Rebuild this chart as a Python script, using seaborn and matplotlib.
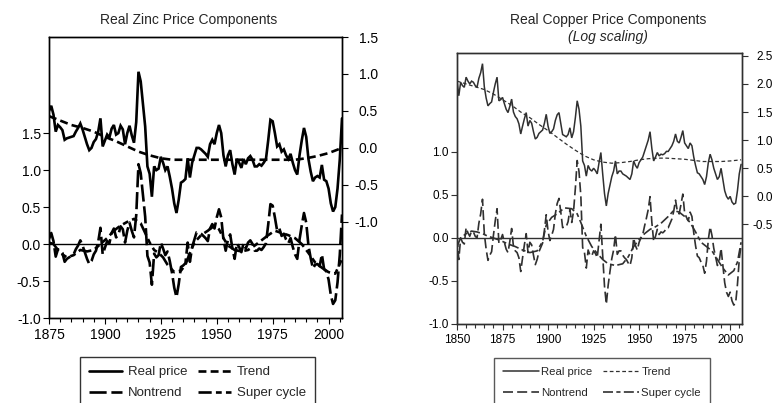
import matplotlib
matplotlib.use("Agg")
import matplotlib.pyplot as plt
import seaborn as sns
import numpy as np
from matplotlib.ticker import MultipleLocator, FormatStrFormatter
from matplotlib.lines import Line2D

sns.set_style("ticks")
plt.rcParams["font.family"] = ["Liberation Sans", "DejaVu Sans"]
plt.rcParams["axes.unicode_minus"] = False

# ---------------- Zinc data ----------------
zinc_years = list(range(1875, 2007))
zinc_price = [
    0.50, 0.57, 0.45, 0.22, 0.31, 0.28, 0.24, 0.11, 0.13, 0.14,
    0.15, 0.16, 0.22, 0.27, 0.33, 0.25, 0.15, 0.05, -0.03, 0.00,
    0.08, 0.12, 0.22, 0.40, 0.02, 0.10, 0.18, 0.14, 0.26, 0.31,
    0.18, 0.20, 0.30, 0.25, 0.05, 0.20, 0.30, 0.17, 0.07, 0.35,
    1.03, 0.90, 0.60, 0.29, -0.25, -0.35, -0.66, -0.25, -0.30, -0.28,
    -0.12, -0.20, -0.30, -0.25, -0.39, -0.55, -0.75, -0.88, -0.70, -0.47,
    -0.45, -0.42, -0.14, -0.40, -0.20, -0.10, 0.00, 0.00, -0.02, -0.05,
    -0.08, -0.12, 0.05, 0.11, 0.05, 0.20, 0.31, 0.20, -0.10, -0.25,
    -0.10, -0.03, -0.22, -0.36, -0.15, -0.20, -0.27, -0.15, -0.22, -0.14,
    -0.11, -0.16, -0.25, -0.25, -0.22, -0.24, -0.20, -0.15, 0.10, 0.38,
    0.36, 0.20, 0.02, 0.05, -0.05, -0.02, -0.10, -0.15, -0.08, -0.20,
    -0.30, -0.36, -0.10, 0.10, 0.27, 0.15, -0.15, -0.32, -0.45, -0.40,
    -0.38, -0.40, -0.23, -0.43, -0.45, -0.55, -0.75, -0.86, -0.80, -0.55,
    -0.16, 0.40,
]
zinc_nontrend = [
    0.07, 0.15, 0.04, -0.17, -0.07, -0.09, -0.12, -0.24, -0.20, -0.18,
    -0.16, -0.14, -0.07, -0.02, 0.05, -0.02, -0.11, -0.20, -0.27, -0.23,
    -0.14, -0.09, 0.03, 0.22, -0.14, -0.05, 0.04, 0.01, 0.15, 0.21,
    0.09, 0.12, 0.24, 0.20, 0.02, 0.18, 0.29, 0.18, 0.09, 0.39,
    1.08, 0.96, 0.67, 0.37, -0.16, -0.25, -0.55, -0.13, -0.18, -0.15,
    0.02, -0.06, -0.15, -0.10, -0.23, -0.39, -0.59, -0.72, -0.54, -0.31,
    -0.29, -0.26, 0.02, -0.24, -0.04, 0.06, 0.16, 0.16, 0.14, 0.11,
    0.08, 0.04, 0.21, 0.27, 0.21, 0.36, 0.47, 0.36, 0.06, -0.09,
    0.06, 0.13, -0.06, -0.20, 0.01, -0.04, -0.11, 0.01, -0.06, 0.02,
    0.05, 0.00, -0.09, -0.09, -0.06, -0.08, -0.04, 0.01, 0.26, 0.54,
    0.52, 0.36, 0.18, 0.21, 0.11, 0.14, 0.06, 0.01, 0.08, -0.04,
    -0.14, -0.20, 0.06, 0.25, 0.42, 0.29, -0.02, -0.19, -0.33, -0.28,
    -0.27, -0.30, -0.14, -0.34, -0.37, -0.48, -0.69, -0.81, -0.76, -0.52,
    -0.15, 0.40,
]
zinc_trend_years = [1875, 1880, 1885, 1890, 1895, 1900, 1905, 1910, 1915, 1920,
                    1925, 1930, 1940, 1950, 1960, 1970, 1980, 1985, 1990, 1995,
                    2000, 2006]
zinc_trend = [0.43, 0.37, 0.31, 0.27, 0.22, 0.15, 0.09, 0.02, -0.05, -0.10,
              -0.14, -0.16, -0.16, -0.16, -0.16, -0.16, -0.16, -0.16, -0.14, -0.11,
              -0.07, 0.00]
zinc_super_years = [1875, 1877, 1880, 1883, 1886, 1889, 1892, 1895, 1898, 1901,
                    1904, 1907, 1910, 1913, 1916, 1918, 1920, 1922, 1924, 1926,
                    1928, 1931, 1934, 1936, 1938, 1940, 1943, 1946, 1949, 1951,
                    1953, 1955, 1958, 1961, 1964, 1967, 1970, 1973, 1976, 1979,
                    1982, 1985, 1988, 1991, 1994, 1997, 2000, 2003, 2006]
zinc_super = [0.02, 0.00, -0.12, -0.18, -0.15, -0.08, -0.10, -0.08, 0.00, 0.08,
              0.18, 0.25, 0.30, 0.34, 0.28, 0.15, 0.02, -0.08, -0.12, -0.18,
              -0.28, -0.38, -0.36, -0.28, -0.12, 0.02, 0.12, 0.18, 0.25, 0.20,
              0.08, -0.02, -0.08, -0.10, -0.08, -0.02, 0.05, 0.12, 0.18, 0.15,
              0.12, 0.08, 0.00, -0.12, -0.25, -0.32, -0.38, -0.40, -0.20]

# ---------------- Copper data ----------------
copper_years = list(range(1850, 2007))
copper_price = [
    2.06, 1.79, 2.03, 1.97, 1.94, 2.12, 2.05, 2.00, 2.05, 2.03,
    1.97, 1.94, 2.10, 2.20, 2.36, 1.95, 1.75, 1.61, 1.65, 1.68,
    1.85, 2.00, 2.12, 1.70, 1.72, 1.76, 1.65, 1.55, 1.49, 1.60,
    1.73, 1.50, 1.42, 1.38, 1.29, 1.11, 1.25, 1.38, 1.49, 1.25,
    1.35, 1.30, 1.15, 1.02, 1.05, 1.12, 1.15, 1.18, 1.30, 1.46,
    1.25, 1.12, 1.15, 1.20, 1.35, 1.45, 1.49, 1.30, 1.10, 1.08,
    1.06, 1.10, 1.22, 1.04, 1.15, 1.40, 1.70, 1.55, 1.25, 0.63,
    0.55, 0.36, 0.55, 0.48, 0.45, 0.50, 0.46, 0.40, 0.60, 0.78,
    0.40, 0.05, -0.17, 0.05, 0.20, 0.35, 0.45, 0.63, 0.40, 0.45,
    0.45, 0.40, 0.38, 0.36, 0.33, 0.30, 0.40, 0.63, 0.55, 0.50,
    0.60, 0.65, 0.70, 0.80, 0.90, 1.00, 1.15, 0.85, 0.63, 0.70,
    0.78, 0.72, 0.75, 0.74, 0.76, 0.80, 0.80, 0.85, 0.90, 0.98,
    1.11, 0.98, 0.95, 1.05, 1.17, 0.95, 0.90, 0.85, 0.95, 0.90,
    0.70, 0.55, 0.42, 0.40, 0.35, 0.30, 0.21, 0.35, 0.60, 0.75,
    0.65, 0.50, 0.40, 0.30, 0.35, 0.50, 0.30, 0.10, 0.00, -0.05,
    0.00, -0.10, -0.14, -0.12, 0.10, 0.40, 0.57,
]
copper_nontrend = [
    0.01, -0.25, 0.00, -0.05, -0.07, 0.12, 0.06, 0.02, 0.08, 0.07,
    0.02, 0.00, 0.17, 0.28, 0.45, 0.05, -0.13, -0.26, -0.20, -0.16,
    0.03, 0.20, 0.34, -0.06, -0.02, 0.04, -0.05, -0.13, -0.17, -0.04,
    0.11, -0.10, -0.15, -0.17, -0.23, -0.39, -0.23, -0.08, 0.05, -0.17,
    -0.05, -0.08, -0.20, -0.31, -0.25, -0.16, -0.11, -0.06, 0.09, 0.27,
    0.08, -0.03, 0.03, 0.10, 0.28, 0.40, 0.46, 0.30, 0.12, 0.13,
    0.13, 0.19, 0.33, 0.18, 0.31, 0.58, 0.90, 0.77, 0.49, -0.11,
    -0.17, -0.35, -0.14, -0.20, -0.21, -0.15, -0.18, -0.23, -0.03, 0.16,
    -0.21, -0.56, -0.77, -0.55, -0.39, -0.24, -0.14, 0.04, -0.19, -0.15,
    -0.15, -0.20, -0.23, -0.25, -0.29, -0.32, -0.23, 0.00, -0.09, -0.14,
    -0.05, 0.00, 0.04, 0.14, 0.23, 0.33, 0.48, 0.18, -0.04, 0.02,
    0.10, 0.04, 0.07, 0.06, 0.08, 0.12, 0.12, 0.17, 0.22, 0.31,
    0.44, 0.31, 0.28, 0.39, 0.51, 0.29, 0.24, 0.20, 0.30, 0.25,
    0.06, -0.09, -0.21, -0.23, -0.28, -0.32, -0.41, -0.27, -0.02, 0.13,
    0.03, -0.12, -0.22, -0.32, -0.27, -0.12, -0.32, -0.52, -0.63, -0.68,
    -0.63, -0.73, -0.78, -0.76, -0.54, -0.25, -0.08,
]
copper_trend_years = [1850, 1855, 1860, 1865, 1870, 1875, 1880, 1885, 1890, 1895,
                      1900, 1905, 1910, 1915, 1920, 1925, 1930, 1935, 1940, 1945,
                      1950, 1955, 1960, 1965, 1970, 1975, 1980, 1985, 1990, 1995,
                      2000, 2006]
copper_trend = [2.05, 2.00, 1.95, 1.90, 1.82, 1.72, 1.62, 1.50, 1.40, 1.28,
                1.17, 1.05, 0.93, 0.82, 0.72, 0.65, 0.61, 0.59, 0.60, 0.62,
                0.65, 0.67, 0.68, 0.68, 0.67, 0.66, 0.64, 0.62, 0.62, 0.62,
                0.63, 0.65]
copper_super_years = [1850, 1852, 1855, 1858, 1861, 1864, 1867, 1870, 1874, 1878,
                      1882, 1886, 1890, 1894, 1897, 1899, 1902, 1905, 1909, 1913,
                      1916, 1918, 1921, 1924, 1927, 1930, 1933, 1937, 1941, 1944,
                      1947, 1950, 1953, 1956, 1959, 1962, 1966, 1969, 1972, 1975,
                      1978, 1981, 1984, 1987, 1990, 1993, 1996, 1999, 2002, 2004,
                      2006]
copper_super = [-0.10, 0.00, 0.05, 0.08, 0.07, 0.05, 0.02, 0.00, -0.03, -0.07,
                -0.10, -0.14, -0.17, -0.15, -0.04, 0.15, 0.24, 0.28, 0.35, 0.34,
                0.28, 0.18, 0.02, -0.10, -0.18, -0.25, -0.30, -0.32, -0.30, -0.22,
                -0.10, -0.02, 0.05, 0.10, 0.13, 0.17, 0.25, 0.32, 0.30, 0.25,
                0.18, 0.07, -0.05, -0.10, -0.15, -0.25, -0.35, -0.43, -0.38, -0.28,
                -0.05]

legend_labels = ["Real price", "Trend", "Nontrend", "Super cycle"]

# ---------------- Figure ----------------
fig = plt.figure(figsize=(7.74, 4.03), dpi=100)
W, H = 774.0, 403.0


def box(l, t, r, b):
    return [l / W, 1 - b / H, (r - l) / W, (b - t) / H]


def draw(ax, x, y, color, lw, dashes=None):
    sns.lineplot(x=x, y=y, ax=ax, color=color, linewidth=lw,
                 estimator=None, errorbar=None, legend=False)
    ln = ax.lines[-1]
    if dashes is not None:
        ln.set_dashes(dashes)
    ln.set_dash_capstyle("butt")
    ln.set_solid_joinstyle("miter")
    return ln


def style_axes(ax, ax2, color, fs, rpad):
    for a in (ax, ax2):
        for s in a.spines.values():
            s.set_visible(True)
            s.set_color(color)
            s.set_linewidth(1.0)
        a.set_xlabel("")
        a.set_ylabel("")
    ax.xaxis.set_major_locator(MultipleLocator(25))
    ax.xaxis.set_minor_locator(MultipleLocator(5))
    ax.tick_params(axis="x", which="major", length=4, width=0.8, color=color,
                   labelsize=fs, pad=3, labelcolor="black")
    ax.tick_params(axis="x", which="minor", length=3, width=0.8, color=color)
    ax.tick_params(axis="y", length=4, width=0.8, color=color, labelsize=fs,
                   pad=2, labelcolor="black")
    ax2.tick_params(axis="y", length=4, width=0.8, color=color, labelsize=fs,
                    pad=rpad, labelcolor="black")
    for lbl in ax2.get_yticklabels():
        lbl.set_ha("right")
    ax.yaxis.set_major_formatter(FormatStrFormatter("%.1f"))
    ax2.yaxis.set_major_formatter(FormatStrFormatter("%.1f"))


# ---- Zinc panel ----
axz = fig.add_axes(box(49, 37, 342, 318))
axz2 = axz.twinx()
zk = "black"
z_lw = 1.9
z_trend_d = (3.0, 1.6)
z_non_d = (6.5, 1.8)
z_sup_d = (5.0, 1.6, 2.2, 1.6, 2.2, 1.6)

axz.axhline(0, color=zk, lw=1.0)
draw(axz, zinc_years, zinc_nontrend, zk, z_lw, z_non_d)
draw(axz, zinc_super_years, zinc_super, zk, z_lw, z_sup_d)
draw(axz2, zinc_years, zinc_price, zk, z_lw)
draw(axz2, zinc_trend_years, zinc_trend, zk, z_lw, z_trend_d)

axz.set_xlim(1875, 2006)
axz.set_ylim(-1.0, 2.8)
axz.set_yticks([-1.0, -0.5, 0.0, 0.5, 1.0, 1.5])
axz2.set_ylim(-2.3, 1.5)
axz2.set_yticks([-1.0, -0.5, 0.0, 0.5, 1.0, 1.5])
style_axes(axz, axz2, zk, 10, 22)

fig.text(189 / W, 1 - 20 / H, "Real Zinc Price Components", ha="center",
         va="center", fontsize=10)

zh = [Line2D([], [], color=zk, lw=z_lw),
      Line2D([], [], color=zk, lw=z_lw, dashes=z_non_d),
      Line2D([], [], color=zk, lw=z_lw, dashes=z_trend_d),
      Line2D([], [], color=zk, lw=z_lw, dashes=z_sup_d)]
legz = fig.legend(zh, [legend_labels[0], legend_labels[2], legend_labels[1], legend_labels[3]],
                  loc="upper left", bbox_to_anchor=(80 / W, 1 - 357 / H), ncol=2,
                  frameon=True, fancybox=False, edgecolor="black", fontsize=9.5,
                  handlelength=2.5, handletextpad=0.45, columnspacing=0.8,
                  labelspacing=0.68, borderpad=0.68, borderaxespad=0)
legz.get_frame().set_linewidth(1.0)

# ---- Copper panel ----
axc = fig.add_axes(box(457, 53, 742, 324))
axc2 = axc.twinx()
ck = "#303030"
c_lw = 1.1
c_trend_d = (3.0, 2.0)
c_non_d = (6.0, 2.5)
c_sup_d = (6.0, 2.0, 2.5, 2.0)

axc.axhline(0, color=ck, lw=1.0)
draw(axc, copper_years, copper_nontrend, ck, 1.2, c_non_d)
draw(axc, copper_super_years, copper_super, ck, 1.2, c_sup_d)
draw(axc2, copper_years, copper_price, ck, c_lw)
draw(axc2, copper_trend_years, copper_trend, ck, 0.9, c_trend_d)

axc.set_xlim(1850, 2006.5)
axc.set_ylim(-1.0, 2.15)
axc.set_yticks([-1.0, -0.5, 0.0, 0.5, 1.0])
axc2.set_ylim(-2.27, 2.55)
axc2.set_yticks([-0.5, 0.0, 0.5, 1.0, 1.5, 2.0, 2.5])
style_axes(axc, axc2, ck, 8.5, 18)

fig.text(608 / W, 1 - 20 / H, "Real Copper Price Components", ha="center",
         va="center", fontsize=10)
fig.text(608 / W, 1 - 37 / H, "(Log scaling)", ha="center", va="center",
         fontsize=10, style="italic")

ch = [Line2D([], [], color=ck, lw=c_lw),
      Line2D([], [], color=ck, lw=1.2, dashes=c_non_d),
      Line2D([], [], color=ck, lw=0.9, dashes=c_trend_d),
      Line2D([], [], color=ck, lw=1.2, dashes=c_sup_d)]
legc = fig.legend(ch, [legend_labels[0], legend_labels[2], legend_labels[1], legend_labels[3]],
                  loc="upper left", bbox_to_anchor=(494 / W, 1 - 358 / H), ncol=2,
                  frameon=True, fancybox=False, edgecolor=ck, fontsize=8.2,
                  handlelength=3.2, handletextpad=0.2, columnspacing=0.9,
                  labelspacing=1.0, borderpad=0.75, borderaxespad=0)
legc.get_frame().set_linewidth(1.0)

fig.savefig("out.png", dpi=100)
